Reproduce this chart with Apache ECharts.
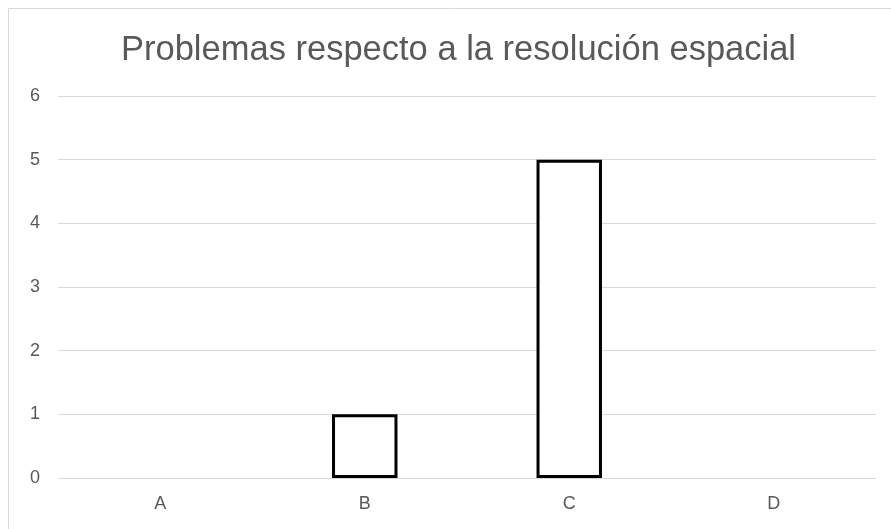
<!DOCTYPE html>
<html>
<head>
<meta charset="utf-8">
<script src="https://cdn.jsdelivr.net/npm/echarts@6/dist/echarts.min.js"></script>
<style>
html,body{margin:0;padding:0;background:#fff;}
#c{width:891px;height:529px;}
</style>
</head>
<body>
<div id="c"></div>
<script>
const titleText = 'Problemas respecto a la resolución espacial';
const categories = ['A', 'B', 'C', 'D'];
const values = [0, 1, 5, 0];
const yTicks = { min: 0, max: 6, interval: 1 };

const chart = echarts.init(document.getElementById('c'), null, { renderer: 'canvas' });
chart.setOption({
  backgroundColor: '#ffffff',
  animation: false,
  title: {
    text: titleText,
    left: 116,
    top: 28,
    textStyle: { fontFamily: 'Liberation Sans, Arial, sans-serif', fontSize: 34.5, fontWeight: 'normal', color: '#595959' }
  },
  graphic: [{
    type: 'rect',
    shape: { x: 8.5, y: 8.5, width: 1000, height: 1000 },
    style: { fill: 'none', stroke: '#d9d9d9', lineWidth: 1 },
    silent: true
  }],
  grid: { left: 58, right: 15, top: 96, bottom: 51 },
  xAxis: {
    type: 'category',
    data: categories,
    axisLine: { show: false },
    axisTick: { show: false },
    axisLabel: { color: '#595959', fontSize: 18, fontFamily: 'Liberation Sans, Arial, sans-serif', margin: 17 }
  },
  yAxis: {
    type: 'value',
    min: yTicks.min,
    max: yTicks.max,
    interval: yTicks.interval,
    axisLine: { show: false },
    axisTick: { show: false },
    axisLabel: { color: '#595959', fontSize: 18, fontFamily: 'Liberation Sans, Arial, sans-serif', margin: 18 }
  ,
    splitLine: { lineStyle: { color: '#d9d9d9', width: 1 } }
  },
  series: [{
    type: 'bar',
    data: values.map(v => ({ value: v, itemStyle: v === 0 ? { borderWidth: 0, color: 'transparent' } : undefined })),
    barWidth: '32%',
    itemStyle: { color: '#ffffff', borderColor: '#000000', borderWidth: 3 }
  }]
});
</script>
</body>
</html>
